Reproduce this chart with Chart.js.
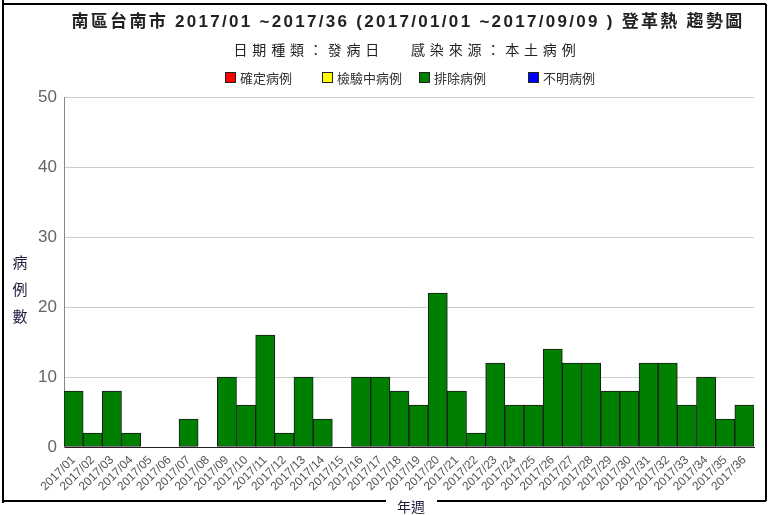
<!DOCTYPE html>
<html>
<head>
<meta charset="utf-8">
<script src="https://cdn.jsdelivr.net/npm/chart.js@4/dist/chart.umd.min.js"></script>
<style>
  html,body{margin:0;padding:0;background:#fff;}
  #wrap{width:771px;height:515px;position:relative;}
</style>
</head>
<body>
<div id="wrap"><canvas id="myChart" width="771" height="515"></canvas></div>
<script>
// ***********data***********
const weeks=['2017/01','2017/02','2017/03','2017/04','2017/05','2017/06','2017/07','2017/08','2017/09',
  '2017/10','2017/11','2017/12','2017/13','2017/14','2017/15','2017/16','2017/17','2017/18',
  '2017/19','2017/20','2017/21','2017/22','2017/23','2017/24','2017/25','2017/26','2017/27',
  '2017/28','2017/29','2017/30','2017/31','2017/32','2017/33','2017/34','2017/35','2017/36'];
const confirmed=weeks.map(()=>0);
const testing=weeks.map(()=>0);
const excluded=[8,2,8,2,0,0,4,0,10,6,16,2,10,4,0,10,10,8,6,22,8,2,12,6,6,14,12,12,8,8,12,12,6,10,4,6];
const unknown=weeks.map(()=>0);
const yTicks=[0,10,20,30,40,50];

const titleText='南區台南市 2017/01 ~2017/36 (2017/01/01 ~2017/09/09 ) 登革熱 趨勢圖';
const subtitleText='日期種類：發病日　 感染來源：本土病例';
const yTitle=['病','例','數'];
const xTitle='年週';

// ********stretch + shift title text like the original******
function stretchBox(chart,box,targetWidth,dx){
  if(!box)return;
  const orig=box.draw.bind(box);
  box.draw=function(area){
    const c=chart.ctx;
    const opts=box.options;
    c.save();
    c.font=Chart.helpers.toFont(opts.font).string;
    const w=c.measureText(opts.text).width;
    const n=[...opts.text].length;
    c.letterSpacing=Math.max(0,(targetWidth-w)/n)+'px';
    c.translate(dx,0);
    orig(area);
    c.restore();
  };
}

// ********frame, legend, axis titles******
const framePlugin={
  id:'frame',
  afterDraw(chart){
    const c=chart.ctx;
    c.save();
    c.strokeStyle='#000';
    c.lineWidth=2;
    c.beginPath();
    c.moveTo(3,0);c.lineTo(3,503);
    c.moveTo(3,4);c.lineTo(766,4);
    c.moveTo(766,4);c.lineTo(766,501);
    c.moveTo(3,501);c.lineTo(386,501);
    c.moveTo(437,501);c.lineTo(766,501);
    c.stroke();
    // legend
    const legendX=[225,322,419,528];
    c.font='13px "Noto Sans CJK TC"';
    c.textBaseline='middle';
    c.textAlign='left';
    c.lineWidth=1;
    chart.data.datasets.forEach((d,i)=>{
      const x=legendX[i];
      c.fillStyle=d.backgroundColor;
      c.fillRect(x+0.5,72.5,10,10);
      c.strokeStyle='#222';
      c.strokeRect(x+0.5,72.5,10,10);
      c.fillStyle='#333';
      c.fillText(d.label,x+15,78);
    });
    // axis titles
    c.fillStyle='#1c1c3c';
    c.font='15px "Noto Sans CJK TC"';
    c.textAlign='center';
    yTitle.forEach((ch,i)=>c.fillText(ch,20,262+i*27));
    c.font='14px "Noto Sans CJK TC"';
    c.fillText(xTitle,411,507);
    c.restore();
  }
};

const ctx=document.getElementById('myChart');
const ds=(label,data,color)=>({label,data,backgroundColor:color,borderColor:'#1a1a1a',borderWidth:1,
  borderSkipped:false,barPercentage:1,categoryPercentage:1});

const chart=new Chart(ctx,{
  type:'bar',
  data:{
    labels:weeks,
    datasets:[
      ds('確定病例',confirmed,'#ff0000'),
      ds('檢驗中病例',testing,'#ffff00'),
      ds('排除病例',excluded,'#008000'),
      ds('不明病例',unknown,'#0000ff')
    ]
  },
  options:{
    responsive:false,
    animation:false,
    layout:{padding:{left:0,right:17,top:0,bottom:0}},
    plugins:{
      title:{display:true,text:titleText,color:'#222',
        font:{family:'"Liberation Sans","Noto Sans CJK TC"',size:17,weight:'bold'},
        padding:{top:12,bottom:9}},
      subtitle:{display:true,text:subtitleText,color:'#222',
        font:{family:'"Noto Sans CJK TC"',size:14},
        padding:{top:0,bottom:39}},
      legend:{display:false},
      tooltip:{enabled:false}
    },
    scales:{
      x:{stacked:true,
        grid:{display:false,drawTicks:false},
        border:{color:'#222',width:1},
        ticks:{minRotation:45,maxRotation:45,autoSkip:false,color:'#555',padding:6,
          font:{family:'"Liberation Sans"',size:12}},
        afterFit(scale){scale.height=68;}
      },
      y:{stacked:true,min:0,max:50,
        afterBuildTicks(scale){scale.ticks=yTicks.map(v=>({value:v}));},
        grid:{color:'#cccccc',drawTicks:false},
        border:{color:'#888',width:1},
        ticks:{color:'#666',padding:7,
          font:{family:'"Liberation Sans Narrow","Liberation Sans"',size:17}},
        afterFit(scale){scale.width=64;}
      }
    }
  },
  plugins:[framePlugin]
});
stretchBox(chart,chart.titleBlock,673,31);
stretchBox(chart,chart.boxes.find(b=>b!==chart.titleBlock&&b.options&&b.options.text===subtitleText),347,30);
chart.draw();
</script>
</body>
</html>
